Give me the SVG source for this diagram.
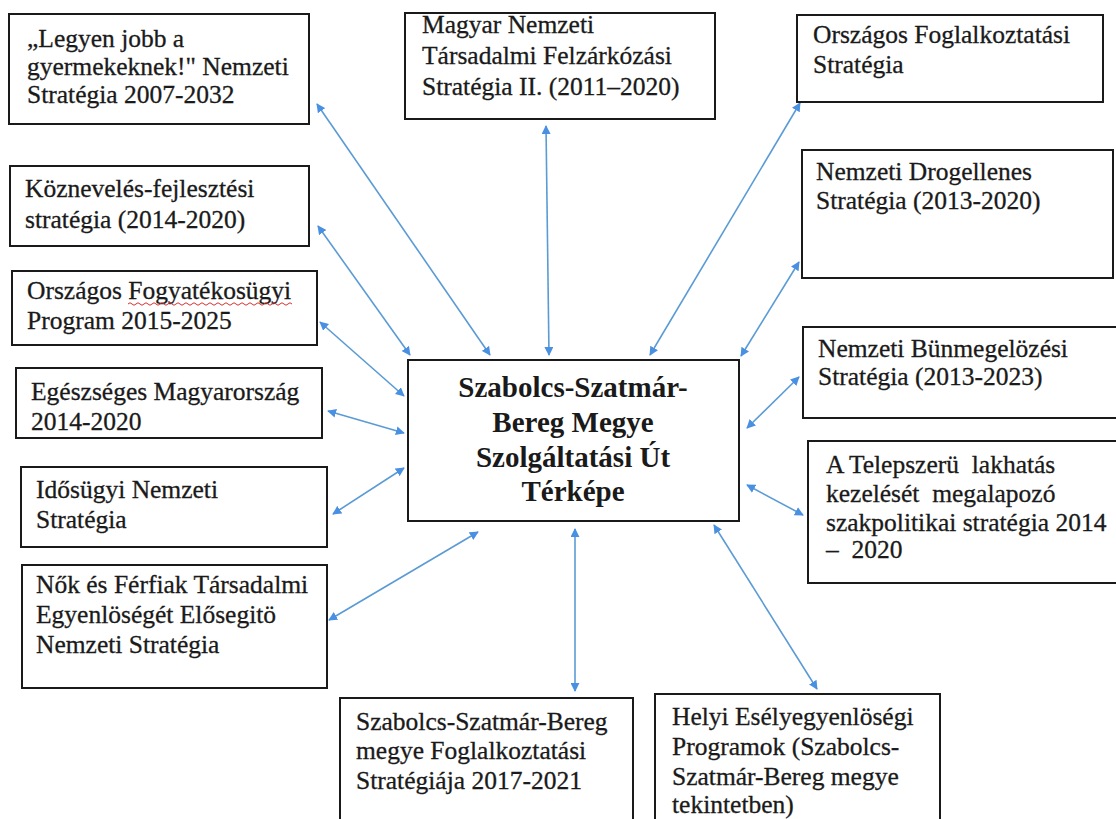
<svg xmlns="http://www.w3.org/2000/svg" width="1116" height="819" viewBox="0 0 1116 819">
<style>
.box{fill:#fff;stroke:#1a1a1a;stroke-width:2}
.t{font-size:25.5px;fill:#1a1a1a;stroke:#1a1a1a;stroke-width:0.3}
.b{font-size:29px;font-weight:bold;fill:#1a1a1a;text-anchor:middle}
.c{stroke:#5b9bd5;stroke-width:1.6;fill:none;marker-start:url(#ah);marker-end:url(#ah)}
</style>
<defs>
<marker id="ah" viewBox="0 0 10 10" refX="9" refY="5" markerWidth="9" markerHeight="9" markerUnits="userSpaceOnUse" orient="auto-start-reverse">
<path d="M0,0 L10,5 L0,10 z" fill="#4a90e2"/>
</marker>
</defs>
<rect width="1116" height="819" fill="#fff"/>
<g id="connectors">
<line class="c" x1="317" y1="104" x2="490" y2="355"/>
<line class="c" x1="318" y1="226" x2="410" y2="355"/>
<line class="c" x1="546" y1="126" x2="549" y2="355"/>
<line class="c" x1="800" y1="103" x2="650" y2="355"/>
<line class="c" x1="799" y1="262" x2="741" y2="356"/>
<line class="c" x1="799" y1="377" x2="747" y2="428"/>
<line class="c" x1="803" y1="515" x2="747" y2="485"/>
<line class="c" x1="714" y1="525" x2="817" y2="689"/>
<line class="c" x1="575" y1="529" x2="575" y2="691"/>
<line class="c" x1="329" y1="620" x2="478" y2="532"/>
<line class="c" x1="333" y1="514" x2="404" y2="468"/>
<line class="c" x1="328" y1="411" x2="404" y2="433"/>
<line class="c" x1="320" y1="322" x2="404" y2="396"/>
</g>
<g font-family="'Liberation Serif', 'DejaVu Serif', serif">
<g id="center">
<rect class="box" x="408" y="360" width="331" height="161"/>
<text class="b" x="573" y="397">Szabolcs-Szatmár-</text>
<text class="b" x="573" y="432">Bereg Megye</text>
<text class="b" x="573" y="467">Szolgáltatási Út</text>
<text class="b" x="573" y="501">Térképe</text>
</g>
<g id="n1">
<rect class="box" x="9" y="14" width="300" height="110"/>
<text class="t" x="27" y="47">„Legyen jobb a</text>
<text class="t" x="27" y="75">gyermekeknek!" Nemzeti</text>
<text class="t" x="27" y="103">Stratégia 2007-2032</text>
</g>
<g id="n2">
<rect class="box" x="10" y="166" width="299" height="80"/>
<text class="t" x="25" y="197">Köznevelés-fejlesztési</text>
<text class="t" x="25" y="228">stratégia (2014-2020)</text>
</g>
<g id="n3">
<rect class="box" x="12" y="271" width="305" height="74"/>
<text class="t" x="27" y="299">Országos Fogyatékosügyi</text>
<text class="t" x="27" y="329">Program 2015-2025</text>
<path d="M128,304 q2,-2.5 4,0 t4,0 t4,0 t4,0 t4,0 t4,0 t4,0 t4,0 t4,0 t4,0 t4,0 t4,0 t4,0 t4,0 t4,0 t4,0 t4,0 t4,0 t4,0 t4,0 t4,0 t4,0 t4,0 t4,0 t4,0 t4,0 t4,0 t4,0 t4,0 t4,0 t4,0 t4,0 t4,0 t4,0 t4,0 t4,0 t4,0 t4,0 t4,0 t4,0 t4,0" fill="none" stroke="#d63030" stroke-width="1"/>
</g>
<g id="n4">
<rect class="box" x="16" y="368" width="306" height="70"/>
<text class="t" x="31" y="400">Egészséges Magyarország</text>
<text class="t" x="31" y="430">2014-2020</text>
</g>
<g id="n5">
<rect class="box" x="21" y="467" width="306" height="80"/>
<text class="t" x="36" y="498">Idősügyi Nemzeti</text>
<text class="t" x="36" y="528">Stratégia</text>
</g>
<g id="n6">
<rect class="box" x="22" y="565" width="305" height="123"/>
<text class="t" x="36" y="593">Nők és Férfiak Társadalmi</text>
<text class="t" x="36" y="623">Egyenlöségét Elősegitö</text>
<text class="t" x="36" y="653">Nemzeti Stratégia</text>
</g>
<g id="n7">
<rect class="box" x="405" y="13" width="310" height="106"/>
<text class="t" x="422" y="33">Magyar Nemzeti</text>
<text class="t" x="422" y="64">Társadalmi Felzárkózási</text>
<text class="t" x="422" y="95">Stratégia II. (2011–2020)</text>
</g>
<g id="n8">
<rect class="box" x="797" y="15" width="306" height="87"/>
<text class="t" x="813" y="43">Országos Foglalkoztatási</text>
<text class="t" x="813" y="73">Stratégia</text>
</g>
<g id="n9">
<rect class="box" x="802" y="150" width="311" height="128"/>
<text class="t" x="816" y="180">Nemzeti Drogellenes</text>
<text class="t" x="816" y="209">Stratégia (2013-2020)</text>
</g>
<g id="n10">
<rect class="box" x="803" y="327" width="320" height="91"/>
<text class="t" x="818" y="357">Nemzeti Bünmegelözési</text>
<text class="t" x="818" y="385">Stratégia (2013-2023)</text>
</g>
<g id="n11">
<rect class="box" x="808" y="441" width="320" height="142"/>
<text class="t" x="826" y="473" xml:space="preserve">A Telepszerü  lakhatás</text>
<text class="t" x="826" y="502" xml:space="preserve">kezelését  megalapozó</text>
<text class="t" x="826" y="531">szakpolitikai stratégia 2014</text>
<text class="t" x="826" y="558" xml:space="preserve">–  2020</text>
</g>
<g id="n12">
<rect class="box" x="340" y="698" width="293" height="140"/>
<text class="t" x="356" y="730">Szabolcs-Szatmár-Bereg</text>
<text class="t" x="356" y="759">megye Foglalkoztatási</text>
<text class="t" x="356" y="789">Stratégiája 2017-2021</text>
</g>
<g id="n13">
<rect class="box" x="655" y="694" width="285" height="140"/>
<text class="t" x="672" y="725">Helyi Esélyegyenlöségi</text>
<text class="t" x="672" y="755">Programok (Szabolcs-</text>
<text class="t" x="672" y="785">Szatmár-Bereg megye</text>
<text class="t" x="672" y="813">tekintetben)</text>
</g>
</g>
</svg>
